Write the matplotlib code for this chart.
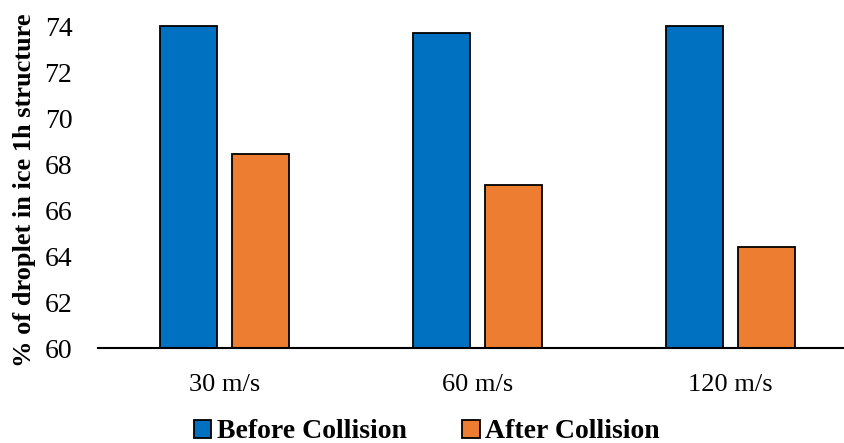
import matplotlib
matplotlib.use("Agg")
import matplotlib.pyplot as plt
import numpy as np

categories = ["30 m/s", "60 m/s", "120 m/s"]
before = [74.0, 73.7, 74.0]
after = [68.45, 67.1, 64.4]
series_names = ["Before Collision", "After Collision"]
yticks = [60, 62, 64, 66, 68, 70, 72, 74]

plt.rcParams["font.family"] = ["Liberation Serif", "DejaVu Serif"]

W, H = 844, 443
ytop = 74.1
px_per_unit = 322 / 14
ax_h = (ytop - 60) * px_per_unit
fig = plt.figure(figsize=(W / 100, H / 100), dpi=100)
ax_w = 857 - 98
ax = fig.add_axes([98 / W, (H - 348) / H, ax_w / W, ax_h / H])

x = np.arange(len(categories))
bw = 0.225
off = 0.142
ax.bar(x - off, before, bw, color="#0070C0", edgecolor="black",
       linewidth=1.3, label=series_names[0])
ax.bar(x + off, after, bw, color="#ED7D31", edgecolor="black",
       linewidth=1.3, label=series_names[1])

ax.set_xlim(-0.5, 2.5)
ax.set_ylim(60, ytop)
ax.set_yticks(yticks)
ax.set_xticks(x)
ax.set_xticklabels(categories, fontsize=19)
ax.tick_params(axis="y", length=0, pad=18.5, labelsize=20)
ax.tick_params(axis="x", length=0, pad=19)

for s in ["top", "right", "left"]:
    ax.spines[s].set_visible(False)
ax.spines["bottom"].set_linewidth(1.5)

ax.set_ylabel("% of droplet in ice 1h structure", fontsize=19,
              fontweight="bold")
ax.yaxis.set_label_coords((36 - 98) / ax_w, (348 - 190) / ax_h)

fig.legend(loc="center", bbox_to_anchor=(0.506, 11 / H), ncol=2,
           frameon=False, prop={"weight": "bold", "size": 20},
           handlelength=0.62, handleheight=0.62, handletextpad=0.2,
           columnspacing=2.0)

fig.savefig("out.png", dpi=100)
